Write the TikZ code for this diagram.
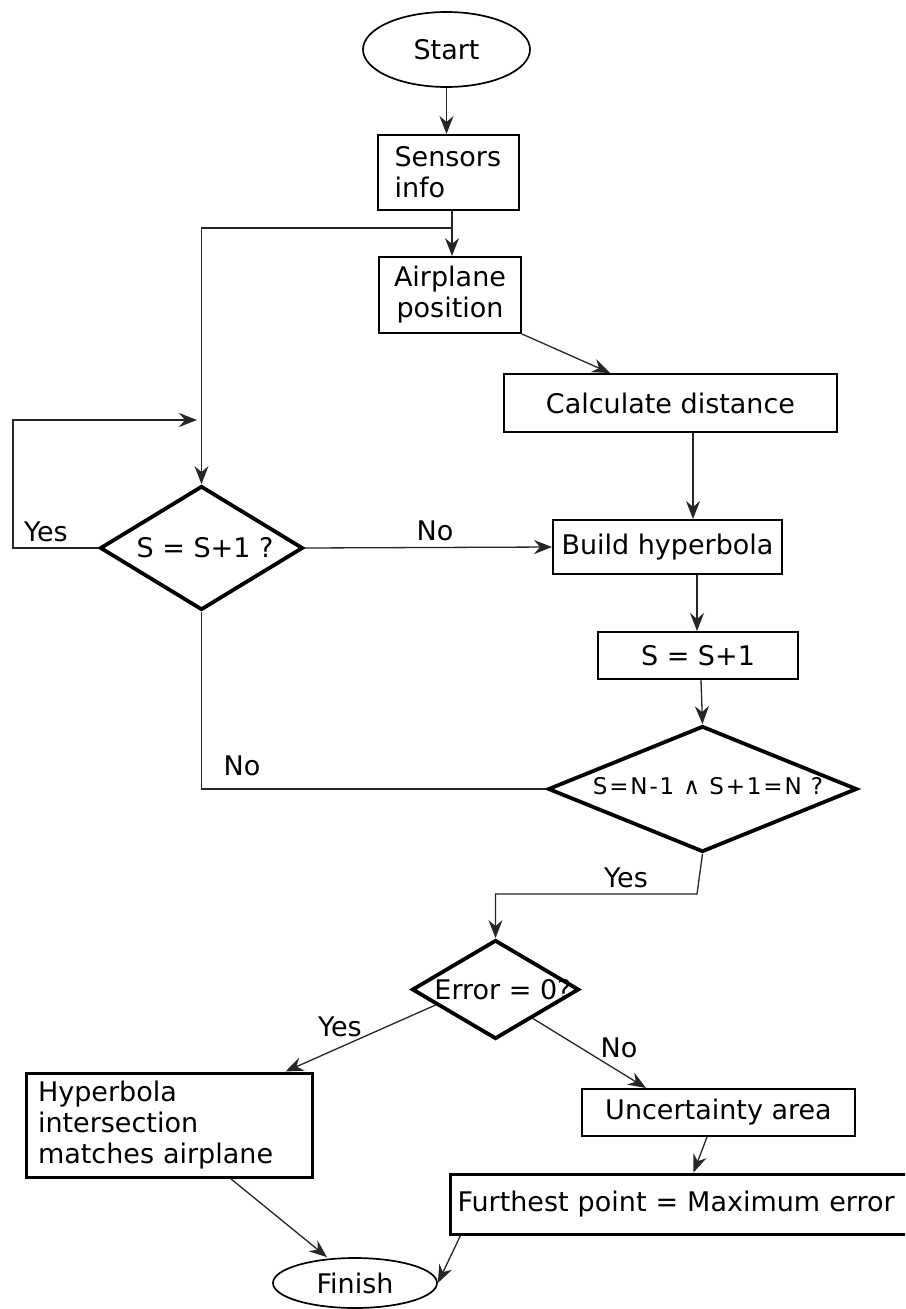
\documentclass[tikz,border=0pt]{standalone}
\usepackage{fontspec}
\setmainfont{DejaVu Sans}
\newfontfamily\spacedsans[LetterSpace=8]{DejaVu Sans}
\usetikzlibrary{shapes.geometric,arrows.meta,calc}

\tikzset{
  txt/.style={font=\fontsize{27}{31}\selectfont, inner sep=0pt},
  procbox/.style={txt, draw, line width=2pt, rectangle},
  heavybox/.style={txt, draw, line width=3pt, rectangle},
  terminal/.style={txt, draw, line width=1.7pt, ellipse, inner sep=0pt},
  decision/.style={draw, line width=3.8pt, diamond, inner sep=0pt},
  conn/.style={line width=1.3pt, draw=black!85},
  arr/.style={conn, -{Stealth[length=18pt,width=14pt,inset=6pt]}},
  lbl/.style={txt}
}

\begin{document}
\begin{tikzpicture}[x=1pt,y=-1pt]
\clip (0,0) rectangle (905,1309);
\fill[white] (0,0) rectangle (905,1309);

% --- process nodes ---
\node[terminal, minimum width=167pt, minimum height=75pt] (start) at (446.5,49.5) {Start};
\node[procbox, minimum width=141pt, minimum height=75pt, text width=108pt, align=left] (sensors) at (448.5,172.5) {Sensors\\info};
\node[procbox, minimum width=142pt, minimum height=76pt, align=center] (airplane) at (450,295) {Airplane\\position};
\node[procbox, minimum width=333pt, minimum height=58pt] (calc) at (670.5,403) {Calculate distance};
\node[procbox, minimum width=229pt, minimum height=54pt] (build) at (667.5,547) {Build hyperbola};
\node[procbox, minimum width=200pt, minimum height=47pt] (sinc) at (698,655.5) {S = S+1};

% --- decisions ---
\node[decision, minimum width=203pt, minimum height=124pt] (d1) at (201.5,548) {};
\node[txt] (d1t) at (205,548) {S = S+1 ?};
\node[decision, minimum width=309pt, minimum height=126pt] (d2) at (702.5,789) {};
\node[inner sep=0pt, font=\spacedsans\fontsize{23}{27}\selectfont] (d2t) at (708,786) {S=N-1 ∧ S+1=N ?};
\node[decision, minimum width=167pt, minimum height=99pt] (d3) at (495.5,989.5) {};
\node[txt] (d3t) at (503,990) {Error = 0?};

% --- outcome nodes ---
\node[heavybox, minimum width=286pt, minimum height=104pt, text width=262pt, align=left] (hyp) at (169,1125) {Hyperbola\\intersection\\matches airplane};
\node[procbox, minimum width=273pt, minimum height=47pt] (unc) at (718.5,1112.5) {Uncertainty area};
\node[heavybox, minimum width=465pt, minimum height=60pt, text width=450pt, align=left] (fur) at (682.5,1204) {Furthest point = Maximum error};
\node[terminal, minimum width=164pt, minimum height=50pt] (finish) at (355,1283) {Finish};

% --- helper points ---
\coordinate (j1) at (452,228);
\coordinate (loopin) at (197,420);
\coordinate (ybend) at (697,894);

% --- connectors ---
\draw[arr] (start.south) -- (start.south |- sensors.north);
\draw[conn] (sensors.south -| j1) -- (j1);
\draw[arr] (j1) -- (j1 |- airplane.north);
\draw[arr] (j1) -| (d1.north);
\draw[arr] (airplane.south east) -- ($(calc.north west)+(107,0)$);
\draw[arr] ($(calc.south)+(22.5,0)$) -- ($(build.north)+(25.5,0)$);
\draw[arr] (d1.east) -- (build.west);
\draw[arr] (d1.west) -| (13,420) -- (loopin);
\draw[arr] ($(build.south)+(29.5,0)$) -- ($(sinc.north)+(-1,0)$);
\draw[arr] ($(sinc.south)+(3,0)$) -- (d2.north);
\draw[conn] (d2.west) -| (d1.south);
\draw[arr] (d2.south) -- (ybend) -| (d3.north);
\draw[arr] ($(d3.west)!0.3!(d3.south)$) -- ($(hyp.north west)+(261,0)$);
\draw[arr] ($(d3.east)!0.563!(d3.south)$) -- ($(unc.north west)+(65,0)$);
\draw[arr] ($(unc.south west)+(126,0)$) -- ($(fur.north west)+(245,0)$);
\draw[arr] ($(hyp.south west)+(206,0)$) -- ($(finish.north)+(-28,0)$);
\draw[arr] ($(fur.south west)+(12,0)$) -- (finish.east);

% --- branch labels ---
\node[lbl] (lyes1) at (46,532) {Yes};
\node[lbl] (lno1) at (435,531) {No};
\node[lbl] (lno2) at (242,766) {No};
\node[lbl] (lyes2) at (626,878) {Yes};
\node[lbl] (lyes3) at (340,1027) {Yes};
\node[lbl] (lno3) at (619,1048) {No};
\end{tikzpicture}
\end{document}
